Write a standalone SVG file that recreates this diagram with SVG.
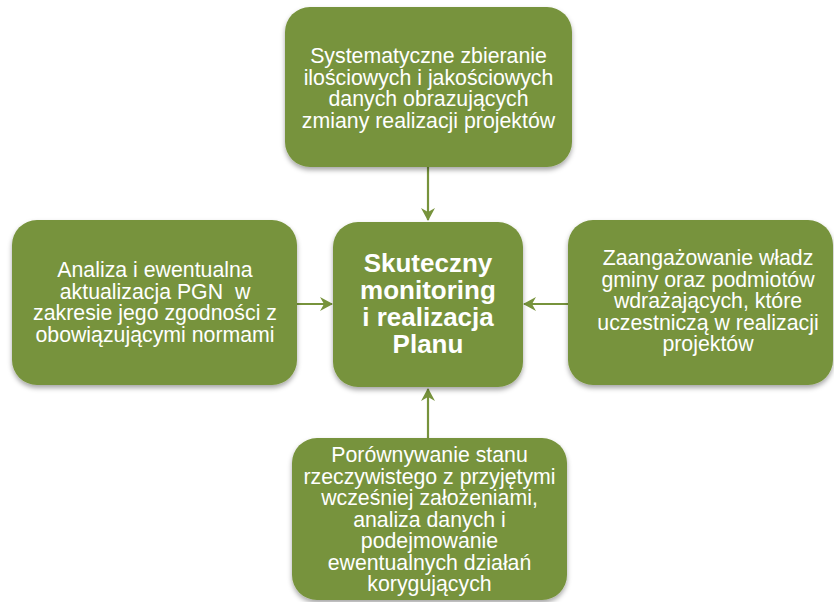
<svg xmlns="http://www.w3.org/2000/svg" width="834" height="602" viewBox="0 0 834 602">
<style>
.box{fill:#77933C;filter:url(#sh)}
.t{font-family:"Liberation Sans",Arial,sans-serif;font-size:21.3px;fill:#fff;text-anchor:middle}
.b{font-family:"Liberation Sans",Arial,sans-serif;font-size:26px;font-weight:bold;fill:#fff;text-anchor:middle}
.c{stroke:#77933C;stroke-width:2.2;fill:none;marker-end:url(#ah)}
</style>
<defs>
<filter id="sh" x="-10%" y="-10%" width="120%" height="130%">
<feDropShadow dx="0" dy="3" stdDeviation="2.5" flood-color="#000" flood-opacity="0.35"/>
</filter>
<marker id="ah" markerWidth="14" markerHeight="14" refX="12" refY="7" orient="auto" markerUnits="userSpaceOnUse">
<path d="M0,0 L13,7 L0,14 L4,7 Z" fill="#77933C"/>
</marker>
</defs>
<rect width="834" height="602" fill="#fff"/>
<g id="connectors">
<line class="c" x1="428" y1="167" x2="428" y2="220"/>
<line class="c" x1="428" y1="438" x2="428" y2="389"/>
<line class="c" x1="297" y1="304" x2="332" y2="304"/>
<line class="c" x1="568" y1="304" x2="524" y2="304"/>
</g>
<g id="top">
<rect class="box" x="285" y="7" width="287" height="160" rx="25"/>
<text class="t"><tspan x="428.5" y="63">Systematyczne zbieranie</tspan><tspan x="428.5" y="84.5">ilościowych i jakościowych</tspan><tspan x="428.5" y="106">danych obrazujących</tspan><tspan x="428.5" y="127.5">zmiany realizacji projektów</tspan></text>
</g>
<g id="left">
<rect class="box" x="12" y="220" width="285" height="165" rx="25"/>
<text class="t"><tspan x="155" y="277">Analiza i ewentualna</tspan><tspan x="155" y="298.5">aktualizacja PGN&#160; w</tspan><tspan x="155" y="320">zakresie jego zgodności z</tspan><tspan x="155" y="341.5">obowiązującymi normami</tspan></text>
</g>
<g id="center">
<rect class="box" x="333" y="222" width="190" height="165" rx="25"/>
<text class="b"><tspan x="428" y="272">Skuteczny</tspan><tspan x="428" y="299">monitoring</tspan><tspan x="428" y="326">i realizacja</tspan><tspan x="428" y="353">Planu</tspan></text>
</g>
<g id="right">
<rect class="box" x="568" y="220" width="265" height="165" rx="25"/>
<text class="t"><tspan x="708" y="265">Zaangażowanie władz</tspan><tspan x="708" y="286.5">gminy oraz podmiotów</tspan><tspan x="708" y="308">wdrażających, które</tspan><tspan x="708" y="329.5">uczestniczą w realizacji</tspan><tspan x="708" y="351">projektów</tspan></text>
</g>
<g id="bottom">
<rect class="box" x="292" y="438" width="275" height="162" rx="25"/>
<text class="t"><tspan x="429.5" y="462">Porównywanie stanu</tspan><tspan x="429.5" y="483.5">rzeczywistego z przyjętymi</tspan><tspan x="429.5" y="505">wcześniej założeniami,</tspan><tspan x="429.5" y="526.5">analiza danych i</tspan><tspan x="429.5" y="548">podejmowanie</tspan><tspan x="429.5" y="569.5">ewentualnych działań</tspan><tspan x="429.5" y="591">korygujących</tspan></text>
</g>
</svg>
